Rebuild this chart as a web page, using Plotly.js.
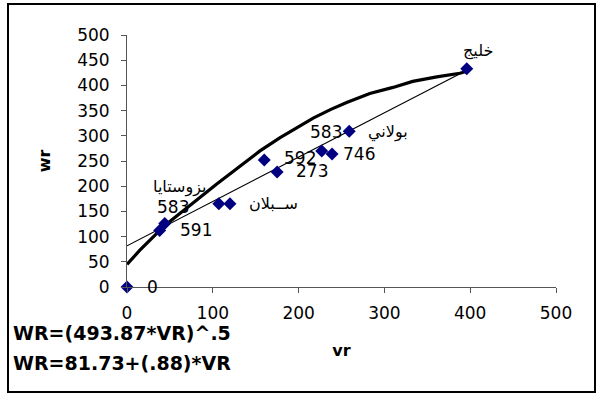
<!DOCTYPE html>
<html>
<head>
<meta charset="utf-8">
<script src="https://cdn.plot.ly/plotly-3.0.1.min.js"></script>
<style>
  html, body { margin: 0; padding: 0; background: #fff; }
  #wrap { position: relative; width: 596px; height: 398px; }
  #chart { position: absolute; left: 0; top: 0; width: 596px; height: 398px; }
  #frame { position: absolute; left: 7px; top: 3px; width: 585px; height: 386px;
           border: 2px solid #000; pointer-events: none; }
</style>
</head>
<body>
<div id="wrap"><div id="chart"></div><div id="frame"></div></div>
<script>
// Observed points
var vr = [0, 38, 44, 107, 120, 160, 175, 227, 239, 259, 396];
var wr = [0, 112, 126, 165, 165, 252, 228, 270, 264, 309, 433];
var pointLabels = ["0", "591", "583", "", "", "592", "273", "", "746", "583", ""];
var nameLabels = ["", "", "بزوستايا", "", "ســبلان", "", "", "", "", "بولاني", "خليج"];

// Thick fitted curve
var curveVr = [0, 15, 38, 47, 105, 124, 155, 178, 202, 217, 237, 256, 283, 310, 333, 361, 388, 396];
var curveWr = [45, 73, 112, 126, 205, 230, 270, 296, 319, 335, 352, 366, 384, 396, 408, 417, 424, 428];

// Thin linear fit (endpoints)
var lineVr = [0, 396];
var lineWr = [81.7, 430.2];

var xTicks = [0, 100, 200, 300, 400, 500];
var yTicks = [0, 50, 100, 150, 200, 250, 300, 350, 400, 450, 500];

var equations = ["WR=(493.87*VR)^.5", "WR=81.73+(.88)*VR"];

// label placement styles (pixel offsets) per point index
var numStyle = {
  0: {xanchor: "left", xshift: 18, yshift: 0},
  1: {xanchor: "left", xshift: 18, yshift: 1},
  2: {xanchor: "center", xshift: 8, yshift: 17},
  5: {xanchor: "left", xshift: 18, yshift: 2},
  6: {xanchor: "left", xshift: 17, yshift: 1},
  8: {xanchor: "left", xshift: 9, yshift: 0},
  9: {xanchor: "right", xshift: -5, yshift: -1}
};
var nameStyle = {
  2: {xanchor: "center", xshift: 15, yshift: 37},
  4: {xanchor: "left", xshift: 17, yshift: 0},
  9: {xanchor: "left", xshift: 17, yshift: -1},
  10: {xanchor: "center", xshift: 11, yshift: 18}
};

var FONT = "DejaVu Sans, Arial, sans-serif";
var annotations = [];
for (var i = 0; i < vr.length; i++) {
  if (pointLabels[i]) {
    var s = numStyle[i];
    annotations.push({x: vr[i], y: wr[i], xref: "x", yref: "y", text: pointLabels[i],
      showarrow: false, xanchor: s.xanchor, yanchor: "middle", xshift: s.xshift, yshift: s.yshift,
      font: {family: FONT, size: 17, color: "#000"}});
  }
  if (nameLabels[i]) {
    var n = nameStyle[i];
    annotations.push({x: vr[i], y: wr[i], xref: "x", yref: "y", text: nameLabels[i],
      showarrow: false, xanchor: n.xanchor, yanchor: "middle", xshift: n.xshift, yshift: n.yshift,
      font: {family: FONT, size: 16, color: "#000"}});
  }
}
annotations.push({xref: "paper", yref: "paper", x: -0.271, y: -0.183, xanchor: "left", yanchor: "middle",
  text: "<b>" + equations[0] + "</b>", showarrow: false, font: {family: FONT, size: 19, color: "#000"}});
annotations.push({xref: "paper", yref: "paper", x: -0.271, y: -0.303, xanchor: "left", yanchor: "middle",
  text: "<b>" + equations[1] + "</b>", showarrow: false, font: {family: FONT, size: 19, color: "#000"}});

var traces = [
  {x: curveVr, y: curveWr, type: "scatter", mode: "lines",
   line: {color: "#000", width: 3.2}, hoverinfo: "skip"},
  {x: lineVr, y: lineWr, type: "scatter", mode: "lines",
   line: {color: "#000", width: 1.2}, hoverinfo: "skip"},
  {x: vr, y: wr, type: "scatter", mode: "markers",
   marker: {symbol: "diamond", color: "#000080", size: 10, line: {width: 0}},
   cliponaxis: false}
];

var layout = {
  width: 596, height: 398,
  margin: {l: 127, r: 40, t: 35, b: 111},
  paper_bgcolor: "#fff", plot_bgcolor: "#fff",
  showlegend: false,
  font: {family: FONT, size: 17, color: "#000"},
  xaxis: {
    range: [0, 500], tickvals: xTicks, ticktext: xTicks.map(String),
    showgrid: false, zeroline: false, showline: true, linecolor: "#555", linewidth: 1,
    ticks: "outside", ticklen: 5, tickcolor: "#555", ticklabelstandoff: 6,
    tickfont: {family: FONT, size: 17, color: "#000"},
    title: {text: "<b>vr</b>", font: {family: FONT, size: 16, color: "#000"}, standoff: 22}
  },
  yaxis: {
    range: [0, 500], tickvals: yTicks, ticktext: yTicks.map(String),
    showgrid: false, zeroline: false, showline: true, linecolor: "#555", linewidth: 1,
    ticks: "outside", ticklen: 5, tickcolor: "#555", ticklabelstandoff: 8,
    tickfont: {family: FONT, size: 17, color: "#000"},
    title: {text: "<b>wr</b>", font: {family: FONT, size: 16, color: "#000"}, standoff: 22}
  },
  annotations: annotations
};

Plotly.newPlot("chart", traces, layout, {staticPlot: true, displayModeBar: false});
</script>
</body>
</html>
